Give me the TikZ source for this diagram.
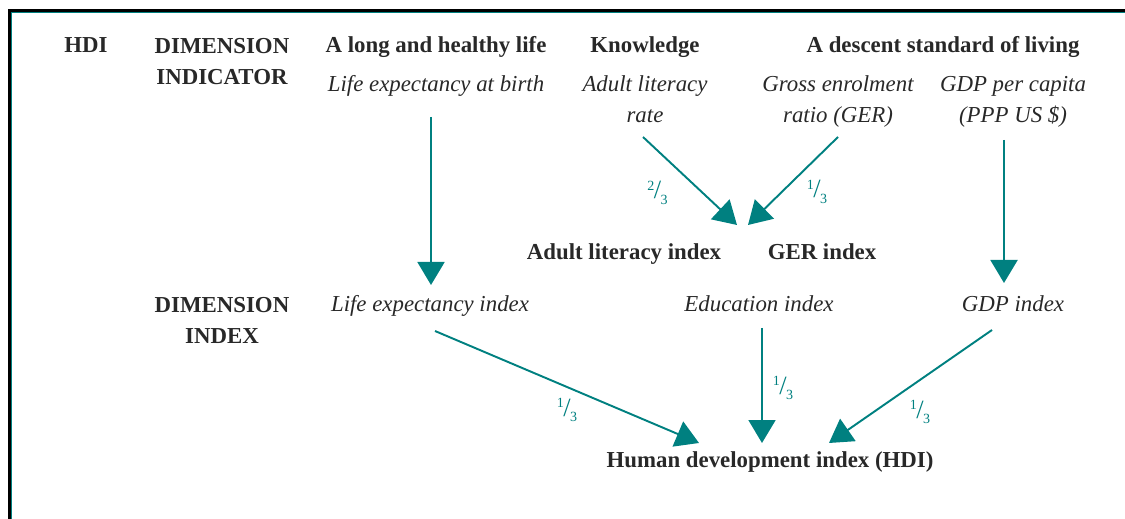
\documentclass[tikz,border=0pt]{standalone}
\usepackage{fontspec}
\setmainfont{Liberation Serif}
\usetikzlibrary{arrows.meta,calc}
\definecolor{myteal}{RGB}{0,128,128}
\definecolor{mygrey}{RGB}{40,40,40}
\newcommand{\MYTHIRD}[1]{{\fontsize{8}{9}\selectfont\raisebox{1.3ex}{#1}}\kern-0.3pt{\fontsize{15}{16}\selectfont/}\kern-0.3pt{\fontsize{8}{9}\selectfont\raisebox{-0.8ex}{3}}}

\begin{document}
\begin{tikzpicture}[x=0.02cm,y=-0.02cm,
    txt/.style={anchor=base,inner sep=0pt,text=mygrey,font=\fontsize{13}{18}\selectfont},
    head/.style={txt,font=\fontsize{13}{18}\selectfont\bfseries},
    ital/.style={txt,font=\fontsize{13}{18}\selectfont\itshape,align=center},
    link/.style={myteal,line width=1.1pt,-{Triangle[length=0.46cm,width=0.54cm]}},
    wt/.style={text=myteal,font=\fontsize{12}{14}\selectfont}]

    \useasboundingbox (0,0) rectangle (1125,519);
    \draw[line width=1.6pt] (9.7,519) -- (9.7,10.5) -- (1125,10.5);% frame
    \draw[myteal,line width=0.6pt] (11.8,519) -- (11.8,12.8) -- (1125,12.8);

    % row titles (base = last line)
    \node[head] (hdi) at (86,53) {HDI};
    \node[head,align=center] (dimind) at (222,85) {DIMENSION\\INDICATOR};
    \node[head,align=center] (dimidx) at (222,344) {DIMENSION\\INDEX};

    % dimensions and indicators
    \node[head] (health) at (436,53) {A long and healthy life};
    \node[head] (know) at (645,53) {Knowledge};
    \node[head] (living) at (943,53) {A descent standard of living};
    \node[ital] (lifebirth) at (436,92) {Life expectancy at birth};
    \node[ital] (literacy) at (645,123) {Adult literacy\\rate};
    \node[ital] (ger) at (838,123) {Gross enrolment\\ratio (GER)};
    \node[ital] (gdpcap) at (1013,123) {GDP per capita\\(PPP US \$)};

    % indices
    \node[head] (litidx) at (624,260) {Adult literacy index};
    \node[head] (geridx) at (822,260) {GER index};
    \node[ital] (lifeidx) at (430,312) {Life expectancy index};
    \node[ital] (eduidx) at (759,312) {Education index};
    \node[ital] (gdpidx) at (1013,312) {GDP index};
    \node[head] (hdiidx) at (770,468) {Human development index (HDI)};

    \draw[link] ($(lifebirth.base)+(-5,25)$) -- ($(lifeidx.base)+(1,-27)$);
    \draw[link] ($(literacy.base)+(-2,14)$) -- node[wt,pos=0.6,xshift=-0.84cm,yshift=-0.06cm] {\MYTHIRD{2}} ($(litidx.base)+(113,-35)$);
    \draw[link] ($(ger.base)+(0,14)$) -- node[wt,pos=0.6,xshift=0.66cm,yshift=-0.04cm] {\MYTHIRD{1}} ($(geridx.base)+(-74,-35)$);
    \draw[link] ($(gdpcap.base)+(-9,17)$) -- ($(gdpidx.base)+(-9,-29)$);

    \foreach \src/\sx/\sy/\tx/\lx/\ly in {lifeidx/5/19/-71/0/-0.46,eduidx/3/16/-8/0.42/-0.05,gdpidx/-21/18/59/0.19/-0.51}{% one third each
      \draw[link] ($(\src.base)+(\sx,\sy)$) -- node[wt,xshift=\lx cm,yshift=\ly cm] {\MYTHIRD{1}} ($(hdiidx.base)+(\tx,-25)$);
    }

\end{tikzpicture}
\end{document}
